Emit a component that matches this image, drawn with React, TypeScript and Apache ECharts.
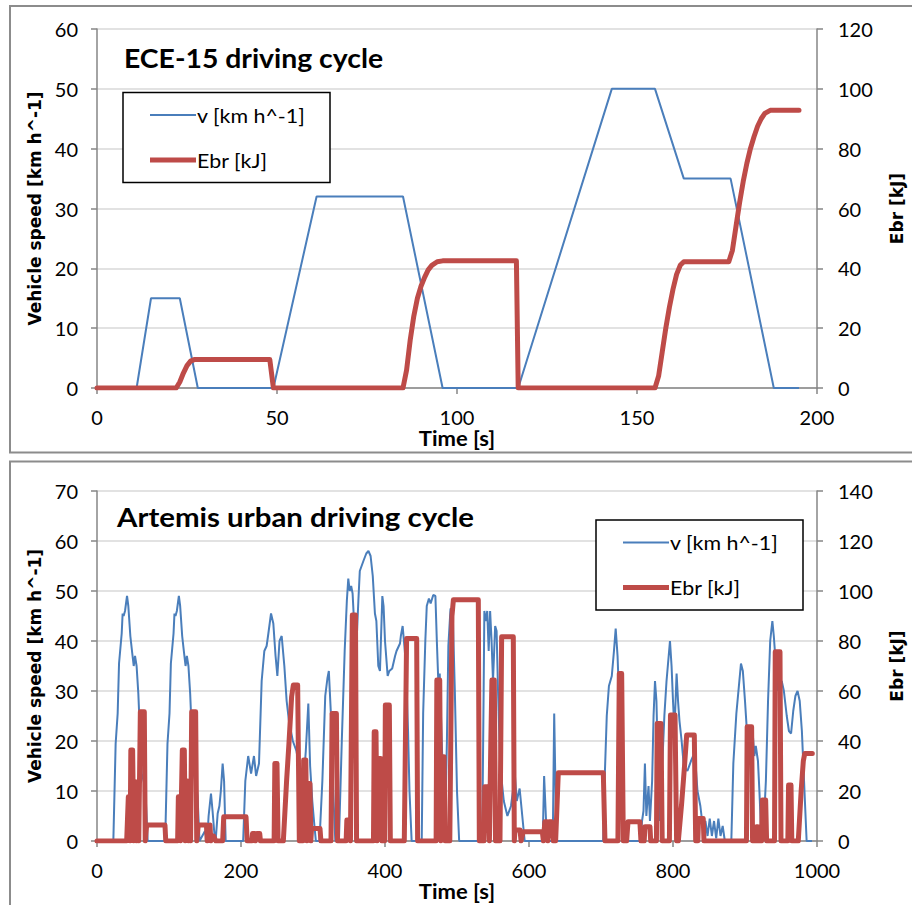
import React, { useEffect, useRef } from "react";
import * as echarts from "echarts";

// ---------- ECE-15 driving cycle (time [s], value) ----------
const eceSpeed: [number, number][] = [
  [0, 0], [11, 0], [15, 15], [23, 15], [28, 0], [49, 0], [61, 32], [85, 32], [96, 0],
  [117, 0], [143, 50], [155, 50], [163, 35], [176, 35], [188, 0], [195, 0],
];
const eceEbr: [number, number][] = [
  [0, 0], [22, 0], [23, 2], [24, 5], [25, 7.5], [26, 9], [27, 9.5], [48, 9.5], [49, 0],
  [85, 0], [86, 6], [87, 16], [88, 24], [89, 30], [90, 34], [91, 37], [92, 39.5], [93, 41],
  [94.5, 42.2], [96, 42.5], [116.5, 42.5], [117, 0], [155, 0], [156, 4], [157, 12],
  [158, 20], [159, 27], [160, 33], [161, 38], [162, 41], [163, 42.2], [175.5, 42.2],
  [176.5, 46], [177.5, 54], [178.5, 62], [179.5, 69], [180.5, 75], [181.5, 80], [182.5, 84],
  [183.5, 87.5], [184.5, 90], [185.5, 91.8], [187, 92.8], [195, 92.8],
];

// ---------- Artemis urban driving cycle ----------
const artSpeed: [number, number][] = [
  [0, 0], [22.7, 0], [25.9, 19.5], [28.7, 25.5], [30.6, 35.5], [34.3, 41.5], [35.6, 45.5],
  [37, 45], [38.9, 46], [41.7, 49], [43.5, 47], [46.3, 41], [49, 37.5], [51, 35], [52.8, 37],
  [55, 35], [57.4, 29.5], [59.7, 21.5], [62, 13.5], [65.7, 11.5], [67.6, 9], [70.4, 0],
  [94.7, 0], [97.9, 19.5], [100.7, 25.5], [102.6, 35.5], [106.3, 41.5], [107.6, 45.5],
  [109, 45], [110.9, 46], [113.7, 49], [115.5, 47], [118.3, 41], [121, 37.5], [123, 35],
  [124.8, 37], [127, 35], [129.4, 29.5], [131.7, 21.5], [134, 13.5], [137.7, 11.5],
  [139.6, 9], [142.4, 0], [150, 2], [153, 0], [155, 5], [158.3, 9.5], [160.5, 6], [163, 1.5],
  [165, 0.5], [167.6, 5.5], [170, 7], [172, 10], [174.5, 15.5], [176.5, 12], [178.7, 0],
  [203, 0], [206, 12], [210, 17], [214, 13.5], [218, 17], [221, 13], [225, 15.5],
  [228.7, 32], [232.4, 38], [235.6, 39], [238, 41.5], [241.7, 45.5], [244.9, 43.5],
  [248, 37], [250.5, 33], [253.5, 40], [256.5, 41], [260.2, 35], [263.4, 28], [266.6, 24],
  [272, 20], [277, 18], [282, 14], [287, 12], [290, 18], [293.5, 27.5], [296, 15], [299, 8],
  [302, 3], [304, 0], [309, 0], [313, 12], [317, 29], [320, 32.5], [322, 34], [325, 25],
  [328, 10], [331, 0], [336, 0], [340, 20], [344, 38], [347, 48], [349, 52.5], [351, 50],
  [353, 51], [355, 49.5], [358, 41], [360, 38], [363, 48], [365, 54], [370, 56], [374, 57.5],
  [377, 58], [380, 57], [383, 53], [386, 45.5], [388, 44], [390.7, 35], [393, 34],
  [396.3, 49], [398, 47], [400, 40], [403.7, 33], [406, 34], [410, 34.5], [414, 37],
  [416, 38], [420.8, 39.5], [422, 41], [424.5, 43], [427.8, 37.5], [430, 31], [432, 22],
  [434, 10], [437, 0], [451, 0], [453, 25.5], [456, 40], [458, 47], [461, 48.5],
  [463.4, 47.5], [467, 49.2], [470, 49], [472, 40], [474, 32], [476, 33.5], [479, 19],
  [483, 0], [486, 20], [488, 39], [491, 46.5], [494, 46], [497, 30], [500, 10], [503, 0],
  [535, 0], [537, 30], [538, 46], [540, 44], [542, 46], [544, 38], [546, 46], [548, 40],
  [550, 32], [553, 43], [555, 42], [557, 30], [560, 15], [565, 8], [570, 5], [575, 7],
  [580.5, 13], [583, 8], [587, 10.5], [590, 6], [594, 0], [619, 0], [621, 13], [624, 3],
  [626, 0], [633, 0], [635, 25.5], [638, 0], [703, 0], [705, 12], [708, 25], [711, 31],
  [715, 33], [718, 38], [720.4, 42.5], [723, 37], [726, 25], [729, 12], [733, 0], [755, 0],
  [757, 4], [759, 6], [761, 15.5], [763, 5], [766, 11], [768, 4], [771, 12], [773, 25],
  [775, 32], [777, 28], [780, 10], [782, 4], [785, 15], [788, 25], [791, 32], [795.8, 40],
  [798, 35], [800, 28], [802, 22], [805, 33.5], [807, 28], [809, 24], [812, 20], [815, 15],
  [820, 14], [825, 16], [828, 17], [831, 16], [834, 10], [838, 7], [842, 2], [845, 4],
  [848, 1], [851, 4.5], [854, 1], [857, 4], [860, 0.5], [863, 4.5], [866, 1], [869, 3],
  [872, 0], [881, 0], [883.8, 15.5], [888, 25.5], [894.4, 35.5], [897, 34], [900, 28],
  [904.6, 17.5], [907, 19], [911, 21], [913, 17], [915, 19], [918, 16], [920, 10], [923, 0],
  [926, 3], [929, 12], [932, 28], [935, 40], [938, 44], [940, 41], [943, 35], [946, 30],
  [949, 31], [951, 32], [954, 30], [958, 25], [961, 22], [964, 21.5], [967, 26], [970, 29],
  [973, 30], [976, 28], [979, 22], [982, 12], [985.6, 0], [993, 0],
];
const artEbr: [number, number][] = [
  [0, 0], [41.2, 0], [43.5, 17.7], [45, 17.7], [46, 0], [47, 36.4], [49.5, 36.4], [51, 0],
  [52, 23.7], [53.5, 23.7], [54.6, 0], [56, 18], [57, 18], [58, 0], [60.2, 51.7],
  [65.7, 51.7], [67, 0], [69, 6.4], [94.4, 6.4], [95.5, 0], [112, 0], [113, 17.7],
  [115, 17.7], [116, 0], [118.5, 36.4], [121.3, 36.4], [122.5, 0], [124, 24], [125.5, 24],
  [127, 0], [129, 16], [130, 0], [131.5, 51.7], [137, 51.7], [138.5, 0], [140.7, 6.4],
  [152, 6.4], [153, 0], [157, 6.4], [158, 0], [162, 2], [165, 0], [174.5, 0], [176, 9.7],
  [207, 9.7], [208.5, 0], [215, 0], [216, 3], [219, 3], [220, 0], [222, 3], [226, 3],
  [227, 0], [246, 0], [247, 31], [250, 31], [251.5, 0], [258.8, 0], [263.4, 24.4],
  [266.6, 39], [270.3, 57.7], [272.7, 62.4], [278.7, 62.4], [281, 0], [286, 0], [287, 32.4],
  [290, 32.4], [291.5, 0], [293, 23], [295.8, 23], [297, 0], [298, 5], [309.7, 5], [311, 0],
  [325, 0], [326.5, 51], [332.5, 51], [334, 0], [346, 0], [347, 8.4], [351, 8.4], [352, 0],
  [354.6, 90.4], [359, 90.4], [360.5, 0], [384, 0], [385, 43.7], [387.5, 43.7], [389, 0],
  [390.7, 33], [394, 33], [395.5, 0], [399.5, 0], [400.5, 54.4], [406, 54.4], [407.4, 0],
  [426.8, 0], [430, 81], [444, 81], [445.3, 0], [471, 0], [472, 64.4], [476, 64.4],
  [477.5, 0], [478.7, 33.7], [482, 33.7], [483.5, 0], [490, 0], [493, 90], [495, 96.5],
  [529.6, 96.5], [531, 0], [537.5, 0], [538.5, 21.7], [542.6, 21.7], [545, 0], [547, 40],
  [548.5, 64.4], [551.8, 64.4], [553.5, 0], [559.7, 0], [562, 81.7], [578.2, 81.7],
  [579.6, 0], [580.5, 4.4], [587.5, 4.4], [589, 0], [592, 3.7], [618.5, 3.7], [620, 0],
  [622, 7.7], [625, 7.7], [626, 0], [628, 7.7], [631.5, 7.7], [633.8, 0], [637, 0],
  [640.7, 27.3], [703.2, 27.3], [705.5, 0], [723.5, 0], [725.4, 67], [728.7, 67], [731, 0],
  [735.6, 0], [737.5, 7.7], [754, 7.7], [755.5, 0], [760, 0], [761, 5.7], [768, 5.7],
  [769, 0], [777, 0], [778, 47], [783.3, 47], [785, 0], [795, 0], [796.5, 50.4],
  [802.8, 50.4], [805, 0], [807.4, 0], [812, 15], [816, 30], [819, 42.4], [829.6, 42.4],
  [831.5, 0], [834.5, 0], [835.5, 9], [842, 9], [843, 0], [902, 0], [903, 45.7],
  [909.2, 45.7], [910.5, 0], [915, 0], [916, 5.7], [918, 5.7], [919, 0], [923, 0],
  [924, 16.4], [928.7, 16.4], [930, 0], [941, 0], [942, 75.7], [948.6, 75.7], [950, 0],
  [959.5, 0], [960.5, 22.4], [963.9, 22.4], [965, 0], [974, 0], [978, 20], [981, 32],
  [983, 35], [993.5, 35],
];

const eceXTicks = { min: 0, max: 200, interval: 50 };
const eceYLeft = { min: 0, max: 60, interval: 10 };
const eceYRight = { min: 0, max: 120, interval: 20 };
const artXTicks = { min: 0, max: 1000, interval: 200 };
const artYLeft = { min: 0, max: 70, interval: 10 };
const artYRight = { min: 0, max: 140, interval: 20 };

const titles = ["ECE-15 driving cycle", "Artemis urban driving cycle"];
const seriesNames = ["v [km h^-1]", "Ebr [kJ]"];
const leftAxisName = "Vehicle speed [km h^-1]";
const rightAxisName = "Ebr [kJ]";
const xAxisName = "Time [s]";

const BLUE = "#4A7EBB";
const RED = "#BE4B48";
const AXIS = "#868686";
const GRID = "#D9D9D9";
const LABEL_FONT = "Lato";
const fmt = (v: number) => String(v);

function xAxisCfg(gridIndex: number, t: { min: number; max: number; interval: number }) {
  return {
    type: "value",
    gridIndex,
    ...t,
    axisLine: { show: true, onZero: false, lineStyle: { color: AXIS, width: 1.5 } },
    axisTick: { show: true, length: 6, lineStyle: { color: AXIS, width: 1.5 } },
    splitLine: { show: false },
    axisLabel: { margin: 19, fontFamily: LABEL_FONT, fontSize: 20, color: "#000", formatter: fmt },
  };
}
function yAxisCfg(gridIndex: number, t: { min: number; max: number; interval: number }, right: boolean) {
  return {
    type: "value",
    gridIndex,
    position: right ? "right" : "left",
    ...t,
    axisLine: { show: true, lineStyle: { color: AXIS, width: 1.5 } },
    axisTick: { show: true, length: 6, lineStyle: { color: AXIS, width: 1.5 } },
    splitLine: { show: !right, lineStyle: { color: GRID, width: 1.5 } },
    axisLabel: { margin: right ? 21 : 19, fontFamily: LABEL_FONT, fontSize: 20, color: "#000", formatter: fmt },
  };
}

function legendGraphic(bx: number, by: number) {
  const txt = (text: string, y: number) => ({
    type: "text", x: bx + 74, y, scaleX: 1.07, z: 101,
    style: { text, fontFamily: LABEL_FONT, fontSize: 20, fill: "#000", align: "left", verticalAlign: "middle" },
  });
  return [
    { type: "rect", shape: { x: bx, y: by, width: 207, height: 90 }, style: { fill: "#fff", stroke: "#000", lineWidth: 1.5 }, z: 100 },
    { type: "line", shape: { x1: bx + 27, y1: by + 22.5, x2: bx + 73, y2: by + 22.5 }, style: { stroke: BLUE, lineWidth: 2 }, z: 101 },
    { type: "line", shape: { x1: bx + 27, y1: by + 67.5, x2: bx + 73, y2: by + 67.5 }, style: { stroke: RED, lineWidth: 5 }, z: 101 },
    txt(seriesNames[0], by + 22.5),
    txt(seriesNames[1], by + 67.5),
  ];
}

function textEl(text: string, x: number, y: number, opts: any) {
  return {
    type: "text", x, y, rotation: opts.rotation || 0, scaleX: opts.scaleX || 1, z: 100,
    style: {
      text, fontFamily: opts.family, fontWeight: "bold", fontSize: opts.size, fill: "#000",
      align: opts.align || "center", verticalAlign: "middle",
    },
  };
}

export default function App() {
  const ref = useRef<HTMLDivElement>(null);
  useEffect(() => {
    const chart = echarts.init(ref.current!, null, { renderer: "svg" });
    const lineSeries = (name: string, xi: number, yi: number, data: [number, number][], red: boolean) => ({
      name, type: "line", xAxisIndex: xi, yAxisIndex: yi, data, showSymbol: false, symbol: "none",
      lineStyle: red ? { color: RED, width: 5, join: "round", cap: "round" } : { color: BLUE, width: 2 },
      itemStyle: { color: red ? RED : BLUE }, z: red ? 4 : 3,
    });
    const option: any = {
      animation: false,
      backgroundColor: "#fff",
      grid: [
        { left: 97, top: 29, width: 720, height: 359 },
        { left: 97, top: 491, width: 720, height: 350 },
      ],
      xAxis: [xAxisCfg(0, eceXTicks), xAxisCfg(1, artXTicks)],
      yAxis: [
        yAxisCfg(0, eceYLeft, false),
        yAxisCfg(0, eceYRight, true),
        yAxisCfg(1, artYLeft, false),
        yAxisCfg(1, artYRight, true),
      ],
      series: [
        lineSeries(seriesNames[0], 0, 0, eceSpeed, false),
        lineSeries(seriesNames[1], 0, 1, eceEbr, true),
        lineSeries(seriesNames[0], 1, 2, artSpeed, false),
        lineSeries(seriesNames[1], 1, 3, artEbr, true),
      ],
      graphic: [
        { type: "rect", shape: { x: 10, y: 6, width: 920, height: 446.5 }, style: { fill: "none", stroke: "#8C8C8C", lineWidth: 2 } },
        { type: "rect", shape: { x: 10, y: 461.5, width: 920, height: 460 }, style: { fill: "none", stroke: "#8C8C8C", lineWidth: 2 } },
        textEl(titles[0], 124, 58, { family: "Lato", size: 27, align: "left", scaleX: 1.05 }),
        textEl(titles[1], 117, 516, { family: "Lato", size: 27, align: "left", scaleX: 1.09 }),
        textEl(leftAxisName, 35, 208.5, { family: "DejaVu Sans", size: 17, rotation: Math.PI / 2 }),
        textEl(rightAxisName, 897, 208.5, { family: "DejaVu Sans", size: 17, rotation: Math.PI / 2 }),
        textEl(leftAxisName, 35, 666, { family: "DejaVu Sans", size: 17, rotation: Math.PI / 2 }),
        textEl(rightAxisName, 897, 666, { family: "DejaVu Sans", size: 17, rotation: Math.PI / 2 }),
        textEl(xAxisName, 457, 437.5, { family: "Lato", size: 20, scaleX: 1.1 }),
        textEl(xAxisName, 457, 891, { family: "Lato", size: 20, scaleX: 1.1 }),
        ...legendGraphic(123, 92.5),
        ...legendGraphic(596, 520),
      ],
    };
    chart.setOption(option);
    return () => chart.dispose();
  }, []);
  return <div ref={ref} style={{ position: "absolute", left: 0, top: 0, width: 912, height: 905 }} />;
}
